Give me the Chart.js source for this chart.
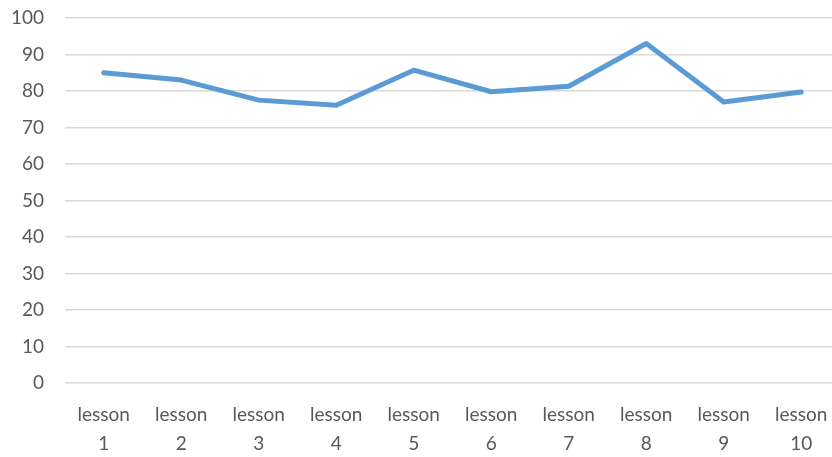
<!DOCTYPE html>
<html>
<head>
<meta charset="utf-8">
<script src="https://cdn.jsdelivr.net/npm/chart.js@4/dist/chart.umd.min.js"></script>
<style>
    html, body { margin: 0; padding: 0; background: #fff; overflow: hidden; }
    #wrap { width: 840px; height: 457px; }
</style>
</head>
<body>
<div id="wrap"><canvas id="chart"></canvas></div>
<script>
const lessons = ['1', '2', '3', '4', '5', '6', '7', '8', '9', '10'];
const scores = [85, 83, 77.5, 76.1, 85.7, 79.8, 81.3, 93, 77, 79.7];
const yMin = 0;
const yMax = 100;
const yStep = 10;

const textColor = '#595959';
const fontSpec = { family: "Lato, 'Open Sans', sans-serif", size: 19 };

new Chart(document.getElementById('chart'), {
    type: 'line',
    data: {
        labels: lessons.map(n => ['lesson', n]),
        datasets: [{
            data: scores,
            borderColor: '#5B9BD5',
            borderWidth: 5,
            pointRadius: 0,
            tension: 0,
            borderCapStyle: 'round',
            borderJoinStyle: 'round',
            fill: false
        }]
    },
    options: {
        responsive: true,
        maintainAspectRatio: false,
        animation: false,
        layout: { padding: { top: 18, right: 0, left: 0, bottom: 0 } },
        plugins: {
            legend: { display: false },
            tooltip: { enabled: false }
        },
        scales: {
            x: {
                offset: true,
                grid: { display: false },
                border: { display: false },
                ticks: {
                    color: textColor,
                    font: { ...fontSpec, lineHeight: 1.55 },
                    maxRotation: 0,
                    autoSkip: false,
                    padding: 9
                },
                afterFit: axis => {
                    axis.height = 74;
                    axis.paddingTop = 0;
                    axis.paddingBottom = 0;
                }
            },
            y: {
                min: yMin,
                max: yMax,
                grid: { color: '#D9D9D9', lineWidth: 1.5, drawTicks: false },
                border: { display: false },
                ticks: {
                    stepSize: yStep,
                    color: textColor,
                    font: fontSpec,
                    padding: 21
                },
                afterFit: axis => {
                    axis.width = 65;
                    axis.paddingTop = 0;
                    axis.paddingBottom = 0;
                }
            }
        }
    }
});
</script>
</body>
</html>
